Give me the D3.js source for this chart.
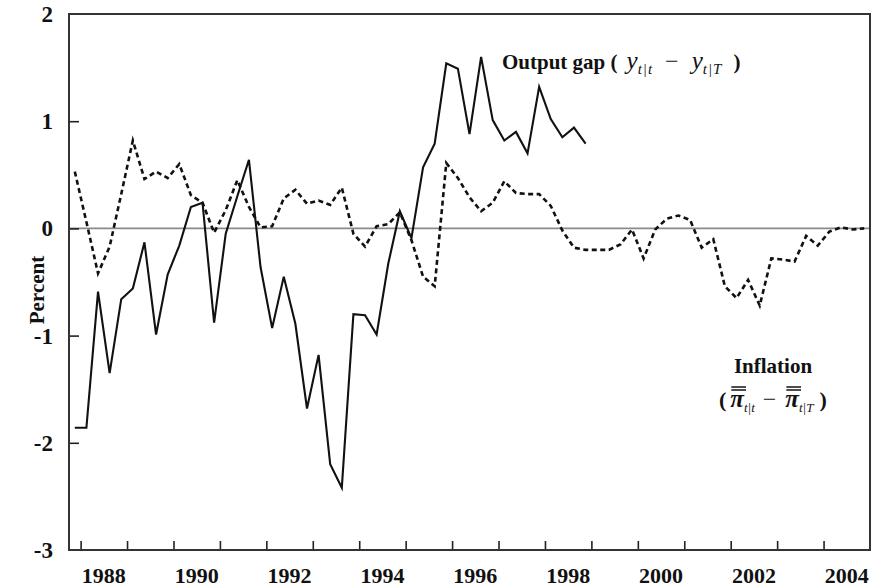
<!DOCTYPE html>
<html>
<head>
<meta charset="utf-8">
<script src="https://cdn.jsdelivr.net/npm/d3@7"></script>
<style>
  body { margin: 0; background: #fff; }
  svg text { font-family: "Liberation Serif", "Times New Roman", serif; fill: #111; }
</style>
</head>
<body>
<div id="chart"></div>
<script>
const width = 875;
const height = 587;

// quarterly observations, first one is 1987 Q4
const firstQuarter = 1987.75;

const outputGap = [
  -1.86, -1.86, -0.59, -1.35, -0.66, -0.56, -0.13, -0.99, -0.43, -0.16,
  0.20, 0.24, -0.88, -0.05, 0.30, 0.64, -0.36, -0.93, -0.45, -0.89,
  -1.68, -1.18, -2.20, -2.42, -0.80, -0.81, -0.99, -0.33, 0.16, -0.09,
  0.57, 0.79, 1.54, 1.49, 0.88, 1.60, 1.01, 0.82, 0.90, 0.70,
  1.32, 1.02, 0.85, 0.94, 0.79
];

const inflation = [
  0.53, 0.06, -0.42, -0.17, 0.32, 0.82, 0.46, 0.53, 0.47, 0.60,
  0.31, 0.24, -0.04, 0.17, 0.45, 0.20, 0.01, 0.02, 0.28, 0.36,
  0.23, 0.26, 0.22, 0.38, -0.05, -0.17, 0.02, 0.04, 0.15, -0.11,
  -0.45, -0.54, 0.61, 0.47, 0.29, 0.16, 0.24, 0.44, 0.33, 0.32,
  0.32, 0.21, -0.02, -0.18, -0.20, -0.20, -0.20, -0.15, -0.01, -0.28,
  -0.01, 0.09, 0.12, 0.08, -0.18, -0.10, -0.54, -0.65, -0.48, -0.72,
  -0.28, -0.29, -0.31, -0.07, -0.16, -0.03, 0.01, -0.01, 0.00
];

const yearTicks = d3.range(1988, 2005);
const yearLabels = [1988, 1990, 1992, 1994, 1996, 1998, 2000, 2002, 2004];
const yTicks = [2, 1, 0, -1, -2, -3];

// quarter midpoint as decimal year
const qDate = i => firstQuarter + 0.125 + i * 0.25;

const x = d3.scaleLinear().domain([1987.75, 2005]).range([69, 870]);
const y = d3.scaleLinear().domain([-3, 2]).range([550, 14]);

const svg = d3.select('#chart')
  .append('svg')
  .attr('width', width)
  .attr('height', height);

// zero line
svg.append('line')
  .attr('x1', x.range()[0]).attr('x2', x.range()[1])
  .attr('y1', y(0)).attr('y2', y(0))
  .attr('stroke', '#8a8a8a')
  .attr('stroke-width', 1.6);

const line = d3.line()
  .x((d, i) => x(qDate(i)))
  .y(d => y(d));

svg.append('path')
  .datum(inflation)
  .attr('fill', 'none')
  .attr('stroke', '#111')
  .attr('stroke-width', 2.6)
  .attr('stroke-dasharray', '5,3.5')
  .attr('d', line);

svg.append('path')
  .datum(outputGap)
  .attr('fill', 'none')
  .attr('stroke', '#111')
  .attr('stroke-width', 2.1)
  .attr('d', line);

// axes: ticks pointing inward
const xAxis = d3.axisBottom(x).tickValues(yearTicks).tickSize(-9).tickFormat('');
svg.append('g')
  .attr('transform', `translate(0,${y(-3)})`)
  .call(xAxis)
  .call(g => g.select('.domain').remove())
  .selectAll('line').attr('stroke', '#222').attr('stroke-width', 1.6);

const yAxis = d3.axisLeft(y).tickValues([1, 0, -1, -2]).tickSize(-10).tickFormat('');
svg.append('g')
  .attr('transform', `translate(${x.range()[0]},0)`)
  .call(yAxis)
  .call(g => g.select('.domain').remove())
  .selectAll('line').attr('stroke', '#222').attr('stroke-width', 1.6);

// frame
svg.append('rect')
  .attr('x', x.range()[0]).attr('y', y(2))
  .attr('width', x.range()[1] - x.range()[0])
  .attr('height', y(-3) - y(2))
  .attr('fill', 'none')
  .attr('stroke', '#333')
  .attr('stroke-width', 2);

// tick labels
svg.append('g')
  .selectAll('text')
  .data(yTicks)
  .enter().append('text')
  .attr('x', 53)
  .attr('y', d => y(d) + 8)
  .attr('text-anchor', 'end')
  .style('font-size', '23px')
  .style('font-weight', 'bold')
  .text(d => d);

svg.append('g')
  .selectAll('text')
  .data(yearLabels)
  .enter().append('text')
  .attr('x', d => x(d + 0.5))
  .attr('y', 583)
  .attr('text-anchor', 'middle')
  .style('font-size', '22px')
  .style('font-weight', 'bold')
  .text(d => d);

svg.append('text')
  .attr('transform', 'translate(44,290) rotate(-90)')
  .attr('text-anchor', 'middle')
  .style('font-size', '21px')
  .style('font-weight', 'bold')
  .text('Percent');

// output gap label
const og = svg.append('text')
  .attr('x', 502).attr('y', 69)
  .style('font-size', '21px');
og.append('tspan').style('font-weight', 'bold').text('Output gap (');
og.append('tspan').attr('dx', 9).style('font-style', 'italic').style('font-size', '25px').text('y');
og.append('tspan').attr('dy', 5).style('font-size', '15px').style('letter-spacing', '1px').style('font-style', 'italic').text('t|t');
og.append('tspan').attr('dy', -5).attr('dx', 12).style('font-size', '24px').text('−');
og.append('tspan').attr('dx', 13).style('font-style', 'italic').style('font-size', '25px').text('y');
og.append('tspan').attr('dy', 5).style('font-size', '15px').style('letter-spacing', '1px').style('font-style', 'italic').text('t|T');
og.append('tspan').attr('dy', -5).attr('dx', 11).style('font-weight', 'bold').text(')');

// inflation label
svg.append('text')
  .attr('x', 773).attr('y', 373)
  .attr('text-anchor', 'middle')
  .style('font-size', '21px')
  .style('font-weight', 'bold')
  .text('Inflation');

const inf = svg.append('text')
  .attr('x', 719).attr('y', 407)
  .style('font-size', '22px');
inf.append('tspan').style('font-weight', 'bold').text('(');
inf.append('tspan').attr('dx', 4).style('font-style', 'italic').style('font-weight', 'bold').style('font-size', '25px').text('π');
inf.append('tspan').attr('dy', 5).style('font-size', '13px').style('font-style', 'italic').text('t|t');
inf.append('tspan').attr('dy', -5).attr('dx', 8).style('font-size', '24px').text('−');
inf.append('tspan').attr('dx', 9).style('font-style', 'italic').style('font-weight', 'bold').style('font-size', '25px').text('π');
inf.append('tspan').attr('dy', 5).style('font-size', '13px').style('font-style', 'italic').text('t|T');
inf.append('tspan').attr('dy', -5).attr('dx', 6).style('font-weight', 'bold').text(')');

// double bars over the two pi characters
const infNode = inf.node();
const fullText = infNode.textContent;
[...fullText].forEach((ch, i) => {
  if (ch !== 'π') return;
  const s = infNode.getStartPositionOfChar(i);
  const e = infNode.getEndPositionOfChar(i);
  [0, 3].forEach(off => {
    svg.append('line')
      .attr('x1', s.x + 1).attr('x2', e.x + 2)
      .attr('y1', s.y - 17 - off).attr('y2', e.y - 17 - off)
      .attr('stroke', '#111')
      .attr('stroke-width', 1.5);
  });
});
</script>
</body>
</html>
